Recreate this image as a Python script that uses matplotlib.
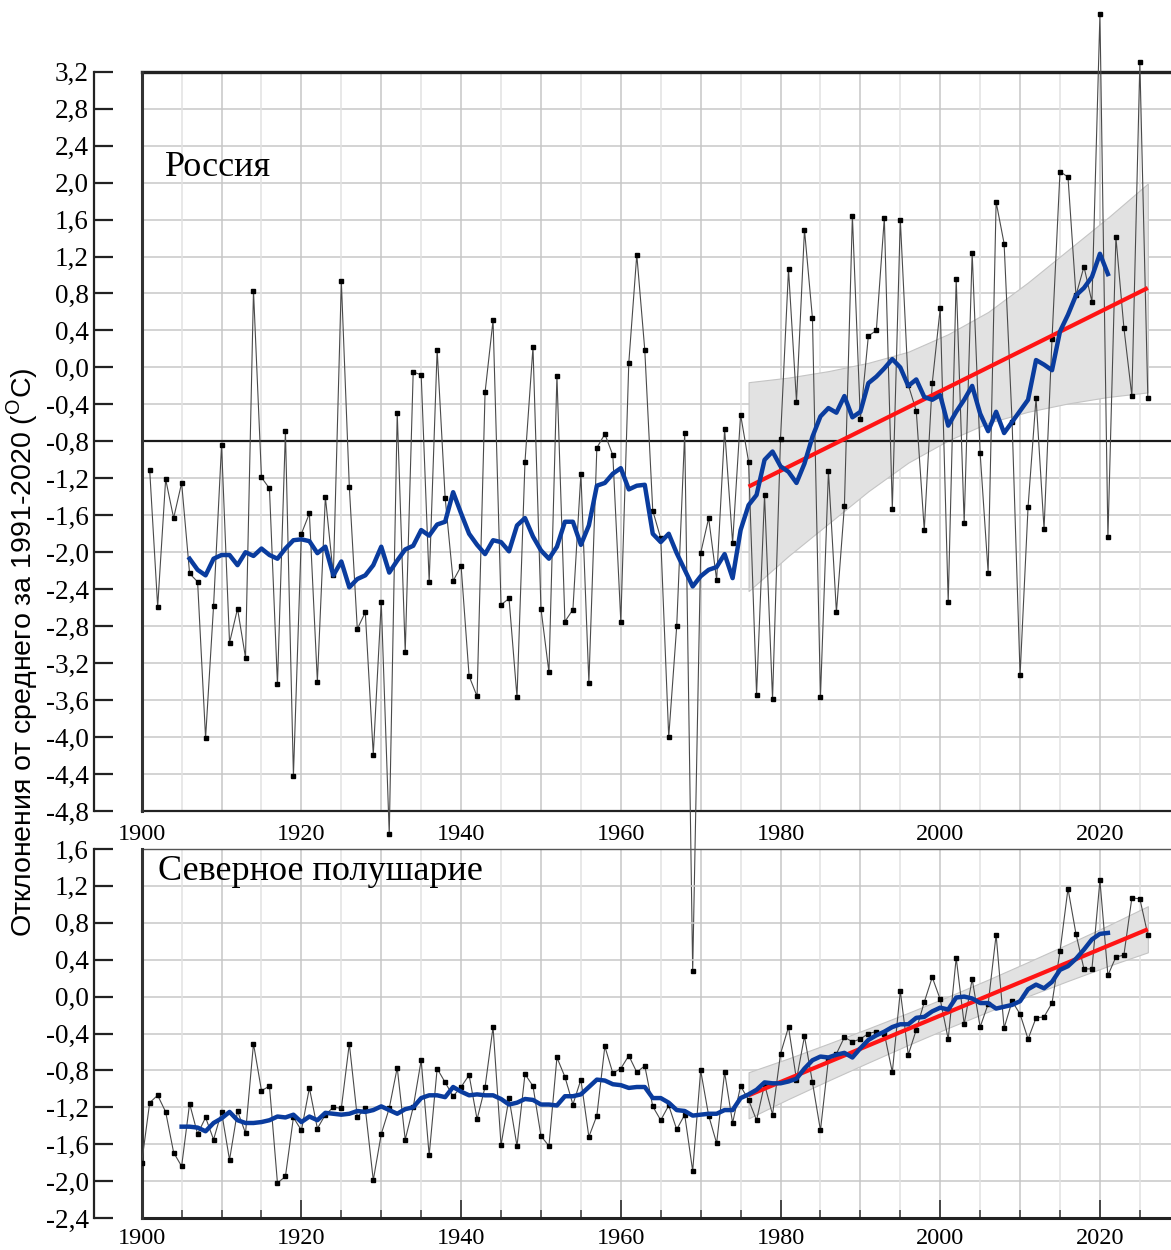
import numpy as np
import matplotlib
matplotlib.use("Agg")
import matplotlib.pyplot as plt
from matplotlib.ticker import FuncFormatter

plt.rcParams['font.family'] = ['Liberation Serif', 'DejaVu Serif']
plt.rcParams['axes.unicode_minus'] = False
plt.rcParams['mathtext.fontset'] = 'custom'
plt.rcParams['mathtext.rm'] = 'Liberation Sans'

# ---------------- data ----------------
russia_years = np.arange(1901, 2027)
russia_vals = [
    -1.11, -2.59, -1.21, -1.63, -1.25, -2.23, -2.32, -4.01, -2.58, -0.84,
    -2.98, -2.61, -3.14, 0.83, -1.19, -1.31, -3.43, -0.69, -4.42, -1.80,
    -1.58, -3.40, -1.40, -2.25, 0.93, -1.29, -2.83, -2.65, -4.19, -2.54,
    -5.05, -0.49, -3.08, -0.05, -0.08, -2.32, 0.19, -1.41, -2.31, -2.15,
    -3.34, -3.56, -0.27, 0.51, -2.57, -2.50, -3.57, -1.02, 0.22, -2.61,
    -3.30, -0.09, -2.75, -2.62, -1.15, -3.41, -0.87, -0.72, -0.95, -2.75,
    0.05, 1.22, 0.19, -1.55, -1.85, -4.00, -2.80, -0.71, -6.53, -2.01,
    -1.63, -2.30, -0.67, -1.90, -0.51, -1.02, -3.54, -1.38, -3.59, -0.77,
    1.06, -0.37, 1.49, 0.53, -3.57, -1.12, -2.65, -1.50, 1.64, -0.56,
    0.34, 0.40, 1.62, -1.53, 1.60, -0.19, -0.47, -1.76, -0.17, 0.64,
    -2.54, 0.96, -1.68, 1.24, -0.93, -2.22, 1.79, 1.34, -0.59, -3.33,
    -1.51, -0.33, -1.75, 0.31, 2.12, 2.06, 0.78, 1.09, 0.71, 3.82,
    -1.84, 1.41, 0.43, -0.31, 3.30, -0.33]

russia_smooth_years = np.arange(1906, 2022)
russia_smooth = [
    -2.07, -2.19, -2.25, -2.07, -2.03, -2.03, -2.14, -2.00, -2.04, -1.96,
    -2.03, -2.07, -1.96, -1.87, -1.86, -1.88, -2.01, -1.94, -2.25, -2.10,
    -2.38, -2.29, -2.25, -2.14, -1.94, -2.22, -2.09, -1.97, -1.93, -1.76,
    -1.82, -1.70, -1.67, -1.35, -1.58, -1.80, -1.92, -2.02, -1.87, -1.89,
    -1.99, -1.71, -1.63, -1.83, -1.98, -2.07, -1.94, -1.67, -1.67, -1.92,
    -1.71, -1.28, -1.25, -1.15, -1.09, -1.32, -1.28, -1.27, -1.80, -1.89,
    -1.80, -2.01, -2.19, -2.37, -2.26, -2.19, -2.16, -2.02, -2.28, -1.76,
    -1.49, -1.38, -1.00, -0.91, -1.07, -1.13, -1.25, -1.04, -0.75, -0.53,
    -0.44, -0.49, -0.31, -0.54, -0.48, -0.17, -0.10, -0.01, 0.09, 0.00,
    -0.20, -0.13, -0.32, -0.35, -0.30, -0.63, -0.48, -0.35, -0.20, -0.50,
    -0.69, -0.48, -0.71, -0.59, -0.47, -0.35, 0.08, 0.03, -0.03, 0.39,
    0.57, 0.78, 0.86, 0.98, 1.23, 1.01]

russia_trend_years = [1976, 2026]
russia_trend = [-1.29, 0.86]
band_years = [1976, 1981, 1986, 1991, 1996, 2001, 2006, 2011, 2016, 2021, 2026]
russia_band_hi = [-0.16, -0.11, -0.04, 0.05, 0.17, 0.36, 0.60, 0.92, 1.27, 1.62, 1.99]
russia_band_lo = [-2.42, -2.04, -1.69, -1.34, -1.03, -0.79, -0.60, -0.48, -0.39, -0.32, -0.27]

nh_years = np.arange(1900, 2027)
nh_vals = [
    -1.80, -1.15, -1.07, -1.25, -1.69, -1.84, -1.16, -1.49, -1.31, -1.55,
    -1.25, -1.77, -1.24, -1.48, -0.51, -1.02, -0.97, -2.02, -1.95, -1.31,
    -1.45, -0.99, -1.43, -1.28, -1.20, -1.21, -0.51, -1.31, -1.21, -1.99,
    -1.49, -1.21, -0.77, -1.55, -1.20, -0.69, -1.72, -0.78, -0.93, -1.08,
    -0.98, -0.85, -1.33, -0.98, -0.33, -1.61, -1.10, -1.62, -0.84, -0.97,
    -1.51, -1.62, -0.66, -0.87, -1.17, -0.90, -1.52, -1.29, -0.54, -0.83,
    -0.78, -0.64, -0.82, -0.75, -1.19, -1.34, -1.18, -1.44, -1.28, -1.89,
    -0.80, -1.29, -1.59, -0.82, -1.37, -0.97, -1.12, -1.34, -0.95, -1.28,
    -0.62, -0.33, -0.90, -0.43, -0.93, -1.45, -0.68, -0.62, -0.44, -0.49,
    -0.46, -0.40, -0.38, -0.40, -0.82, 0.06, -0.63, -0.36, -0.06, 0.21,
    -0.03, -0.46, 0.42, -0.30, 0.19, -0.33, -0.08, 0.67, -0.34, -0.05,
    -0.19, -0.46, -0.23, -0.22, -0.07, 0.49, 1.17, 0.68, 0.30, 0.30,
    1.26, 0.23, 0.43, 0.45, 1.07, 1.06, 0.67]

nh_smooth_years = np.arange(1905, 2022)
nh_smooth = [
    -1.41, -1.41, -1.42, -1.46, -1.37, -1.32, -1.25, -1.34, -1.37, -1.37,
    -1.36, -1.34, -1.30, -1.31, -1.28, -1.36, -1.30, -1.34, -1.26, -1.27,
    -1.28, -1.27, -1.24, -1.25, -1.23, -1.19, -1.23, -1.27, -1.22, -1.20,
    -1.10, -1.07, -1.07, -1.09, -0.98, -1.03, -1.07, -1.06, -1.07, -1.07,
    -1.11, -1.17, -1.15, -1.11, -1.12, -1.17, -1.17, -1.18, -1.08, -1.08,
    -1.06, -0.98, -0.90, -0.91, -0.95, -0.96, -0.99, -0.98, -0.98, -1.10,
    -1.10, -1.15, -1.23, -1.24, -1.29, -1.28, -1.27, -1.27, -1.23, -1.23,
    -1.10, -1.06, -1.01, -0.93, -0.94, -0.94, -0.92, -0.89, -0.78, -0.69,
    -0.65, -0.66, -0.63, -0.61, -0.66, -0.56, -0.47, -0.42, -0.38, -0.33,
    -0.30, -0.30, -0.23, -0.22, -0.16, -0.12, -0.14, -0.01, 0.00, -0.02,
    -0.07, -0.07, -0.13, -0.11, -0.09, -0.05, 0.08, 0.13, 0.09, 0.16,
    0.29, 0.33, 0.41, 0.51, 0.62, 0.68, 0.69]

nh_trend_years = [1976, 2026]
nh_trend = [-1.07, 0.73]
nh_band_hi = [-0.82, -0.67, -0.51, -0.345, -0.176, 0.00, 0.184, 0.375, 0.57, 0.77, 0.98]
nh_band_lo = [-1.32, -1.11, -0.91, -0.715, -0.524, -0.34, -0.164, 0.005, 0.17, 0.33, 0.48]

russia_yticks = np.round(np.arange(-12, 9) * 0.4, 1)
nh_yticks = np.round(np.arange(-6, 5) * 0.4, 1)
year_labels = [1900, 1920, 1940, 1960, 1980, 2000, 2020]

title_russia = "Россия"
title_nh = "Северное полушарие"
ylabel = "Отклонения от среднего за 1991-2020 ($^{\\mathrm{O}}$С)"

# ---------------- layout ----------------
W, H = 1171, 1250
fig = plt.figure(figsize=(W / 100, H / 100), dpi=100)
L = 141.7 / W
axT = fig.add_axes([L, 1 - 811 / H, 1 - L, (811 - 71.7) / H])
axB = fig.add_axes([L, 1 - 1218 / H, 1 - L, (1218 - 849) / H])
axB.patch.set_alpha(0)

XMAX = 2028.9
GRAY = '#4a4a4a'
BLUE = '#0a3c9e'
RED = '#ff1414'


def fmt(v, pos):
    s = f"{v:.1f}".replace('.', ',')
    return '0,0' if s == '-0,0' else s


def style(ax, ylo, yhi, yticks):
    ax.set_xlim(1900, XMAX)
    ax.set_ylim(ylo, yhi)
    for yv in yticks:
        ax.axhline(yv, color='#c8c8c8', lw=1.1, zorder=0)
    for xv in range(1905, 2029, 5):
        c = '#c6c6c6' if xv % 10 == 0 else '#e2e2e2'
        ax.axvline(xv, color=c, lw=1.1, zorder=0)
    ax.set_yticks(yticks)
    ax.yaxis.set_major_formatter(FuncFormatter(fmt))
    ax.spines['left'].set_position(('outward', 34.3))
    ax.spines['left'].set_linewidth(1.6)
    ax.spines['left'].set_color('#222222')
    ax.spines['right'].set_visible(False)
    ax.tick_params(axis='y', direction='in', length=13.5, width=1.6,
                   color='#222222', pad=4, labelsize=19.5)
    ax.axvline(1900, color='#333333', lw=2.2, clip_on=False, zorder=3)


# ---------- top: Russia ----------
style(axT, -4.8, 3.2, russia_yticks)
axT.spines['top'].set_linewidth(2.4)
axT.spines['top'].set_color('#222222')
axT.spines['bottom'].set_linewidth(1.6)
axT.spines['bottom'].set_color('#222222')
axT.set_xticks(year_labels)
axT.tick_params(axis='x', length=0, pad=9, labelsize=17.5)
axT.axhline(-0.8, color='#1a1a1a', lw=1.6, zorder=2)

axT.fill_between(band_years, russia_band_lo, russia_band_hi, facecolor='#e2e2e2',
                 edgecolor='#c4c4c4', lw=0.8, zorder=1)
axT.plot(russia_years, russia_vals, color=GRAY, lw=0.8, marker='s', ms=3.2,
         mfc='black', mec='black', clip_on=False, zorder=4)
axT.plot(russia_trend_years, russia_trend, color=RED, lw=3.0, zorder=5,
         solid_capstyle='butt')
axT.plot(russia_smooth_years, russia_smooth, color=BLUE, lw=3.2, zorder=6)
axT.text((165 - 141.7) / (W - 141.7), (811 - 167) / (811 - 71.7), title_russia,
         transform=axT.transAxes, fontsize=26, va='center', ha='left', zorder=7)

# ---------- bottom: Northern hemisphere ----------
style(axB, -2.4, 1.6, nh_yticks)
axB.spines['top'].set_linewidth(1.0)
axB.spines['top'].set_color('#555555')
axB.spines['bottom'].set_linewidth(2.2)
axB.spines['bottom'].set_color('#222222')
axB.set_xticks(year_labels)
axB.set_xticks(range(1905, 2029, 5), minor=True)
axB.tick_params(axis='x', which='major', direction='in', length=13, width=1.4,
                color='#444444', pad=7, labelsize=17.5)
axB.tick_params(axis='x', which='minor', direction='in', length=6, width=1.2,
                color='#444444')

axB.fill_between(band_years, nh_band_lo, nh_band_hi, facecolor='#e2e2e2',
                 edgecolor='#c4c4c4', lw=0.8, zorder=1)
axB.plot(nh_years, nh_vals, color=GRAY, lw=0.8, marker='s', ms=3.2,
         mfc='black', mec='black', zorder=4)
axB.plot(nh_trend_years, nh_trend, color=RED, lw=3.0, zorder=5,
         solid_capstyle='butt')
axB.plot(nh_smooth_years, nh_smooth, color=BLUE, lw=3.2, zorder=6)
axB.text((158 - 141.7) / (W - 141.7), (1218 - 872) / (1218 - 849), title_nh,
         transform=axB.transAxes, fontsize=26, va='center', ha='left', zorder=7)

fig.text(22 / W, 1 - 652 / H, ylabel, rotation=90, ha='center', va='center',
         fontsize=20.5, family=['Liberation Sans', 'DejaVu Sans'])

fig.savefig('out.png', dpi=100)
